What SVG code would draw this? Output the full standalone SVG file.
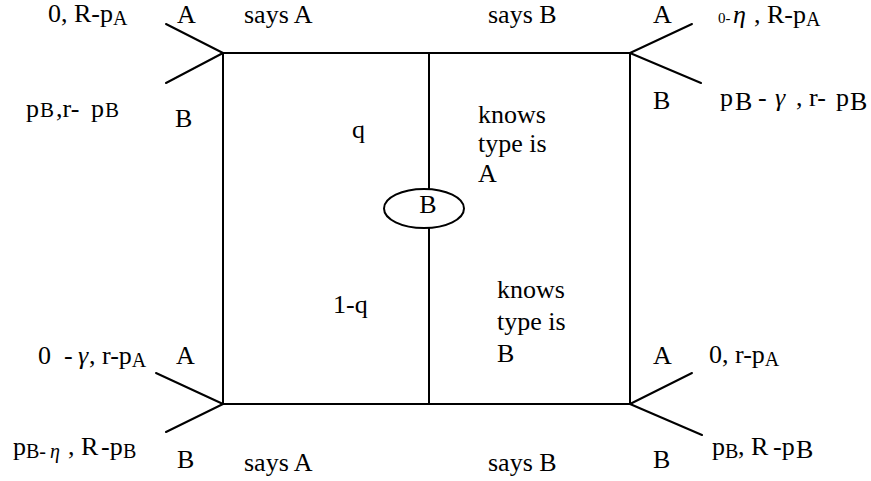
<svg xmlns="http://www.w3.org/2000/svg" width="871" height="481" viewBox="0 0 871 481">
<style>
  text { font-family: 'Liberation Serif', 'Times New Roman', Times, 'DejaVu Serif', serif; font-size: 26px; fill: #000; }
  .sub { font-size: 20px; }
  .sm { font-size: 15px; }
  .it { font-style: italic; }
  .ln { stroke: #000; stroke-width: 2; fill: none; stroke-linecap: round; }
</style>
<rect width="871" height="481" fill="#fff"/>
<g id="connectors">
  <line class="ln" x1="223" y1="53" x2="630" y2="53"/>
  <line class="ln" x1="223" y1="404" x2="630" y2="404"/>
  <line class="ln" x1="223" y1="53" x2="223" y2="404"/>
  <line class="ln" x1="630" y1="53" x2="630" y2="404"/>
  <line class="ln" x1="429" y1="53" x2="429" y2="189"/>
  <line class="ln" x1="429" y1="228" x2="429" y2="404"/>
  <line class="ln" x1="223" y1="53" x2="166" y2="24"/>
  <line class="ln" x1="223" y1="53" x2="166" y2="83"/>
  <line class="ln" x1="630" y1="53" x2="692" y2="24"/>
  <line class="ln" x1="630" y1="53" x2="701" y2="83"/>
  <line class="ln" x1="223" y1="404" x2="156" y2="373"/>
  <line class="ln" x1="223" y1="404" x2="166" y2="432"/>
  <line class="ln" x1="630" y1="404" x2="692" y2="373"/>
  <line class="ln" x1="630" y1="404" x2="702" y2="435"/>
</g>
<g font-family="'Liberation Serif', 'Times New Roman', serif">
<g id="nature">
  <ellipse cx="424" cy="208.5" rx="40" ry="19.5" fill="#fff" stroke="#000" stroke-width="2"/>
  <text x="428" y="213" text-anchor="middle">B</text>
</g>
<g id="labels-middle">
  <text x="244" y="23">says A</text>
  <text x="488" y="23">says B</text>
  <text x="244" y="471">says A</text>
  <text x="488" y="471">says B</text>
  <text x="352" y="138">q</text>
  <text x="333" y="313">1-q</text>
  <text x="478" y="123">knows</text>
  <text x="478" y="152">type is</text>
  <text x="478" y="182">A</text>
  <text x="497" y="298">knows</text>
  <text x="497" y="330">type is</text>
  <text x="497" y="362">B</text>
</g>
<g id="node-top-left">
  <text x="177" y="23">A</text>
  <text x="175" y="127">B</text>
  <text x="48" y="22">0, R-p<tspan class="sub" dy="3">A</tspan></text>
  <text x="26" y="117">p<tspan font-size="21" x="40">B</tspan><tspan x="56">,r-</tspan><tspan x="91">p</tspan><tspan font-size="21" x="105">B</tspan></text>
</g>
<g id="node-top-right">
  <text x="653" y="23">A</text>
  <text x="653" y="109">B</text>
  <text x="718" y="23"><tspan class="sm">0-</tspan><tspan class="it" x="733">η</tspan><tspan x="754">, R-p</tspan><tspan class="sub" dy="3">A</tspan></text>
  <text x="720" y="106">p<tspan x="735" dy="4">B</tspan><tspan x="758" dy="-4">-</tspan><tspan class="it" x="775">γ</tspan><tspan x="796">, r-</tspan><tspan x="836">p</tspan><tspan x="850" dy="4">B</tspan></text>
</g>
<g id="node-bottom-left">
  <text x="176" y="364">A</text>
  <text x="177" y="468">B</text>
  <text x="38" y="364">0<tspan x="64">-</tspan><tspan class="it" x="78">γ</tspan><tspan x="89">, r-p</tspan><tspan class="sub" dy="3">A</tspan></text>
  <text x="13" y="455">p<tspan class="sub" dy="3" x="26">B-</tspan><tspan class="sub it" x="50">η</tspan><tspan dy="-3" x="68">, R</tspan><tspan x="101">-p</tspan><tspan class="sub" dy="3" x="123">B</tspan></text>
</g>
<g id="node-bottom-right">
  <text x="653" y="364">A</text>
  <text x="653" y="468">B</text>
  <text x="709" y="363">0, r-p<tspan class="sub" dy="3">A</tspan></text>
  <text x="712" y="455">p<tspan class="sub" dy="3" x="725">B</tspan><tspan dy="-3" x="738">, R</tspan><tspan x="773">-p</tspan><tspan dy="3" x="796">B</tspan></text>
</g>
</g>
</svg>
